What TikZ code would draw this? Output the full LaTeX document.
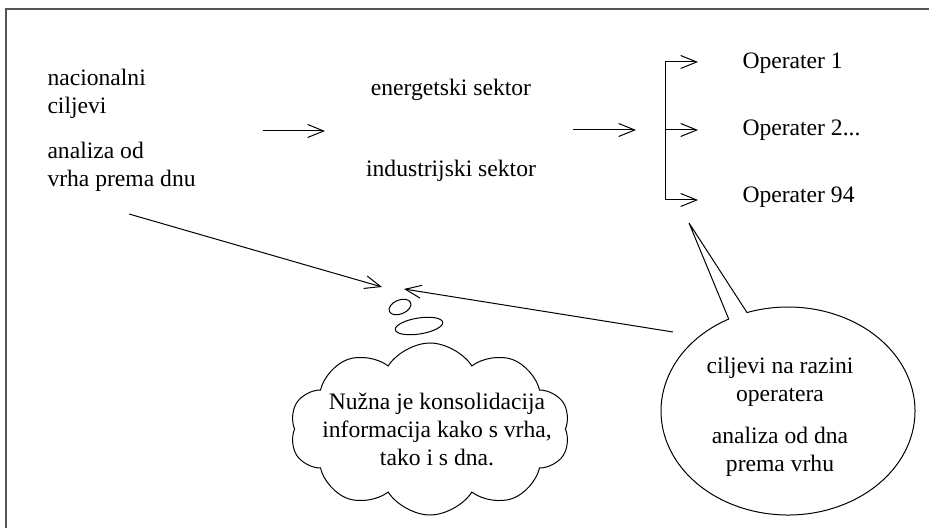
\documentclass[tikz,border=0pt]{standalone}
\usepackage{fontspec}
\setmainfont{Liberation Serif}
\usetikzlibrary{shapes,shapes.geometric,shapes.symbols,shapes.callouts,arrows.meta,positioning}
\definecolor{framegray}{RGB}{85,85,85}

\begin{document}
\begin{tikzpicture}
	[x=0.5pt,y=-0.5pt,line width=0.5pt,every node/.style={inner sep=0pt,
		font=\fontsize{11.8}{14}\selectfont},
	arr/.style={-{Straight Barb[length=8pt,width=6.5pt]}}]

	\useasboundingbox (0,0) rectangle (929,528);
	\draw[framegray,line width=1pt] (6,528) -- (6,9) -- (929,9);

	\node[anchor=west,align=left] (nc) at (47,94) {nacionalni\\ciljevi};
	\node[anchor=west,align=left] (ana) at (47,167) {analiza od\\vrha prema dnu};
	\node (en) at (451,90) {energetski sektor};
	\node (ind) at (451,171) {industrijski sektor};
	\node[anchor=west] (op1) at (742,63) {Operater 1};
	\node[anchor=west] (op2) at (742,130) {Operater 2...};
	\node[anchor=west] (op3) at (742,197) {Operater 94};

	\coordinate (s1) at (263,131); \coordinate (e1) at (325,131);
	\coordinate (s2) at (573,130); \coordinate (e2) at (636,130);
	\coordinate (br1) at (665,62); \coordinate (t1) at (698,62);
	\coordinate (br2) at (665,130); \coordinate (t2) at (698,130);
	\coordinate (br3) at (665,200); \coordinate (t3) at (698,200);
	\coordinate (d1) at (129,214); \coordinate (h1) at (382,287);
	\coordinate (d2) at (673,332); \coordinate (h2) at (404,289);

	\draw (br1) -- (br3);
	\path
	\foreach \startNode/\endNode in {s1/e1,s2/e2,br1/t1,br2/t2,br3/t3,d1/h1,d2/h2}{
		(\startNode) edge[arr] (\endNode)
	};

	% thought bubble
	\node[ellipse,draw,minimum width=11.5pt,minimum height=7pt,rotate=22] (b1) at (400,307) {};
	\node[ellipse,draw,minimum width=24pt,minimum height=8pt,rotate=9] (b2) at (419,326) {};
	\node[cloud,draw,cloud puffs=10,cloud puff arc=115,cloud ignores aspect,
		minimum width=140pt,minimum height=86pt] (cl) at (430,429) {};
	\node[align=center] (ct) at (437,429)
		{Nužna je konsolidacija\\informacija kako s vrha,\\tako i s dna.};

	% speech bubble
	\node[ellipse callout,draw,minimum width=127pt,minimum height=104pt,
		callout pointer arc=9,callout absolute pointer={(689,223)}] (bub) at (788,411) {};
	\node[align=center] (bt) at (780,417)
		{ciljevi na razini\\operatera\\[7pt]analiza od dna\\prema vrhu};
\end{tikzpicture}
\end{document}
